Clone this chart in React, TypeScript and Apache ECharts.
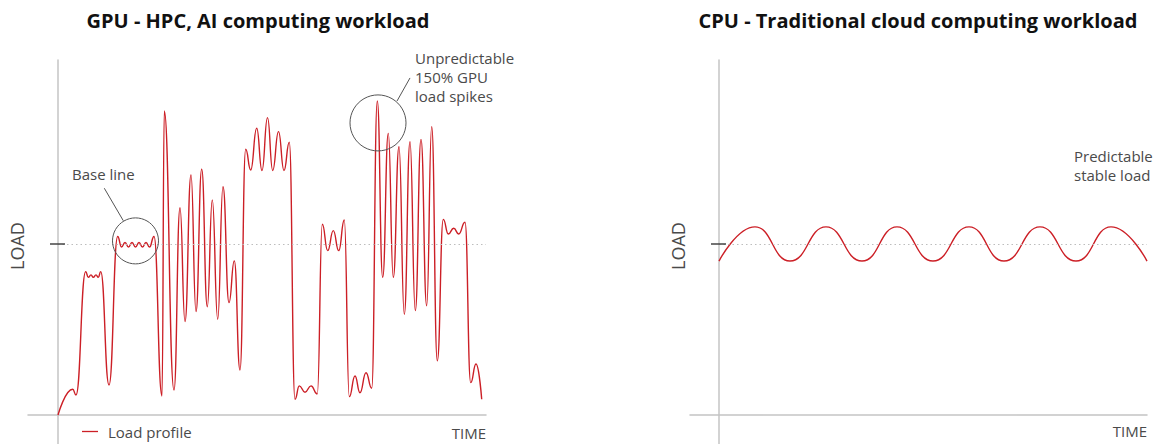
import React, { useEffect, useRef } from "react";
import * as echarts from "echarts";

// GPU load profile (time units, load in % of base line), read at each extremum
const GPU_TIME = [0, 14.7, 18, 27.7, 30.3, 33, 35.3, 38, 40.3, 42.7, 51, 59.7, 63.5, 67, 70.5, 74, 77.5, 81, 84.5, 88, 91.5, 96, 104, 106.3, 116, 122, 127, 133, 138, 143.7, 149.3, 154.3, 159.7, 165, 171, 176.3, 182, 187.7, 192.7, 198.7, 204, 209.5, 214.7, 220.5, 226, 231.3, 237, 241.3, 247, 253, 259.3, 264.3, 269.7, 275.3, 280.7, 286.3, 291.3, 297, 302, 308, 313.7, 319.3, 324.7, 330.3, 335.3, 341, 346.3, 352, 357.3, 363, 368.7, 373.7, 379.3, 385.3, 390.3, 395.7, 400.7, 407, 412.7, 418, 423.7];
const GPU_LOAD = [0, 15, 11.7, 83.8, 80.5, 81.9, 80.5, 81.9, 80.5, 83.8, 17.5, 104.4, 98.2, 100.9, 98.2, 100.9, 98.2, 100.9, 98.2, 100.9, 98.2, 104.4, 11.1, 177.8, 14.6, 121.2, 54.6, 140.4, 60.4, 143.7, 63.3, 125.7, 56, 133.5, 65.7, 90.1, 26.3, 155.4, 143.3, 167.7, 143, 173.9, 143, 165.7, 143, 159.5, 9.2, 17, 13.3, 17, 12.3, 111.5, 96.1, 107.8, 96.1, 114, 10.7, 22.8, 13, 24.7, 15.6, 183.6, 80.5, 164.7, 80.5, 156.9, 58.9, 159.8, 61, 161.2, 63.9, 168.6, 31.6, 114.4, 105.8, 109.2, 105.8, 112.7, 18.9, 29.8, 9.2];

// CPU load profile
const CPU_TIME = [0, 36, 71, 107, 143, 178, 214, 250, 285, 321, 357, 392, 428];
const CPU_LOAD = [90, 110, 90, 110, 90, 110, 90, 110, 90, 110, 90, 110, 90];

const BASELINE = 100;
const TIME_END = 428;

// annotations (data coordinates)
const BASE_CIRCLE = [77.5, 101.8];
const SPIKE_CIRCLE = [320, 170.8];
const BASE_LEADER = [[46.3, 132.6], [65.3, 113.6]];
const SPIKE_LEADER = [[339, 183.6], [352, 197.1]];

const TITLES = ["GPU - HPC, AI computing workload", "CPU - Traditional cloud computing workload"];
const SERIES_NAME = "Load profile";

const RED = "#cc1f26";
const AXIS = "#c4c4c4";
const TEXT = "#4a4a4a";
const FONT = "'Open Sans', 'Noto Sans', sans-serif";

export default function App() {
  const ref = useRef<HTMLDivElement>(null);

  useEffect(() => {
    if (!ref.current) return;
    const chart = echarts.init(ref.current, undefined, { renderer: "svg" });

    const gpuData = GPU_TIME.map((t, i) => [t, GPU_LOAD[i]]);
    const cpuData = CPU_TIME.map((t, i) => [t, CPU_LOAD[i]]);

    const baseMarks = () => {
      const dotted = { type: [1.5, 3], color: "#bdbdbd", width: 1.2 };
      const tick = { type: "solid", color: "#444", width: 1.5 };
      return [
        [
          { coord: [0, BASELINE], lineStyle: dotted },
          { coord: [TIME_END, BASELINE], lineStyle: dotted },
        ],
        [
          { coord: [-8, BASELINE], lineStyle: tick },
          { coord: [7, BASELINE], lineStyle: tick },
        ],
      ];
    };

    const leaderStyle = { type: "solid", color: "#555", width: 1 };

    const xAxisBase = {
      type: "value",
      max: TIME_END,
      axisLine: { show: true, onZero: true, lineStyle: { color: AXIS, width: 1.5 } },
      axisTick: { show: false },
      axisLabel: { show: false },
      splitLine: { show: false },
    };
    const yAxisBase = {
      type: "value",
      min: -17,
      max: 207.6,
      axisLine: { show: true, onZero: true, lineStyle: { color: AXIS, width: 1.5 } },
      axisTick: { show: false },
      axisLabel: { show: false },
      splitLine: { show: false },
    };

    const txt = (text: string, x: number, y: number, extra: any = {}) => ({
      type: "text",
      x,
      y,
      silent: true,
      style: {
        text,
        fontFamily: FONT,
        fontSize: 15,
        fill: TEXT,
        align: "left",
        verticalAlign: "middle",
        ...extra,
      },
    });

    chart.setOption({
      animation: false,
      backgroundColor: "#ffffff",
      grid: [
        { left: 28, top: 60, width: 458, height: 384 },
        { left: 690, top: 60, width: 457, height: 384 },
      ],
      xAxis: [
        { ...xAxisBase, gridIndex: 0, min: -30 },
        { ...xAxisBase, gridIndex: 1, min: -29 },
      ],
      yAxis: [
        { ...yAxisBase, gridIndex: 0 },
        { ...yAxisBase, gridIndex: 1 },
      ],
      legend: {
        data: [SERIES_NAME],
        left: 82,
        top: 424,
        padding: 0,
        icon: "rect",
        itemWidth: 16,
        itemHeight: 1.3,
        selectedMode: false,
        textStyle: { fontFamily: FONT, fontSize: 15, color: TEXT, padding: [0, 0, 0, 5] },
      },
      series: [
        {
          name: SERIES_NAME,
          type: "line",
          xAxisIndex: 0,
          yAxisIndex: 0,
          data: gpuData,
          smooth: 0.5,
          smoothMonotone: "x",
          symbol: "none",
          color: RED,
          lineStyle: { color: RED, width: 1.4 },
          z: 3,
          markLine: {
            silent: true,
            symbol: ["none", "none"],
            label: { show: false },
            animation: false,
            data: [
              ...baseMarks(),
              [
                { coord: BASE_LEADER[0], lineStyle: leaderStyle },
                { coord: BASE_LEADER[1], lineStyle: leaderStyle },
              ],
              [
                { coord: SPIKE_LEADER[0], lineStyle: leaderStyle },
                { coord: SPIKE_LEADER[1], lineStyle: leaderStyle },
              ],
            ],
          },
          markPoint: {
            silent: true,
            symbol: "circle",
            label: { show: false },
            animation: false,
            itemStyle: { color: "rgba(0,0,0,0)", borderColor: "#555", borderWidth: 1 },
            data: [
              { coord: BASE_CIRCLE, symbolSize: 46 },
              { coord: SPIKE_CIRCLE, symbolSize: 56 },
            ],
          },
        },
        {
          name: SERIES_NAME,
          type: "line",
          xAxisIndex: 1,
          yAxisIndex: 1,
          data: cpuData,
          smooth: 0.5,
          smoothMonotone: "x",
          symbol: "none",
          color: RED,
          lineStyle: { color: RED, width: 1.4 },
          z: 3,
          markLine: {
            silent: true,
            symbol: ["none", "none"],
            label: { show: false },
            animation: false,
            data: baseMarks(),
          },
        },
      ],
      graphic: [
        txt(TITLES[0], 258, 20, { fontSize: 20, fontWeight: "bold", fill: "#111", align: "center" }),
        txt(TITLES[1], 918, 20, { fontSize: 20, fontWeight: "bold", fill: "#111", align: "center" }),
        { ...txt("LOAD", 17, 246, { align: "center", fontSize: 18 }), rotation: Math.PI / 2 },
        { ...txt("LOAD", 678, 246, { align: "center", fontSize: 18 }), rotation: Math.PI / 2 },
        txt("TIME", 486, 433, { align: "right" }),
        txt("TIME", 1147, 431, { align: "right" }),
        txt("Base line", 72, 174),
        txt("Unpredictable\n150% GPU\nload spikes", 415, 48.8, { verticalAlign: "top", lineHeight: 19 }),
        txt("Predictable\nstable load", 1074, 146.5, { verticalAlign: "top", lineHeight: 19 }),
      ],
    });

    return () => chart.dispose();
  }, []);

  return (
    <div
      ref={ref}
      style={{ position: "absolute", left: 0, top: 0, width: 1159, height: 444 }}
    />
  );
}
